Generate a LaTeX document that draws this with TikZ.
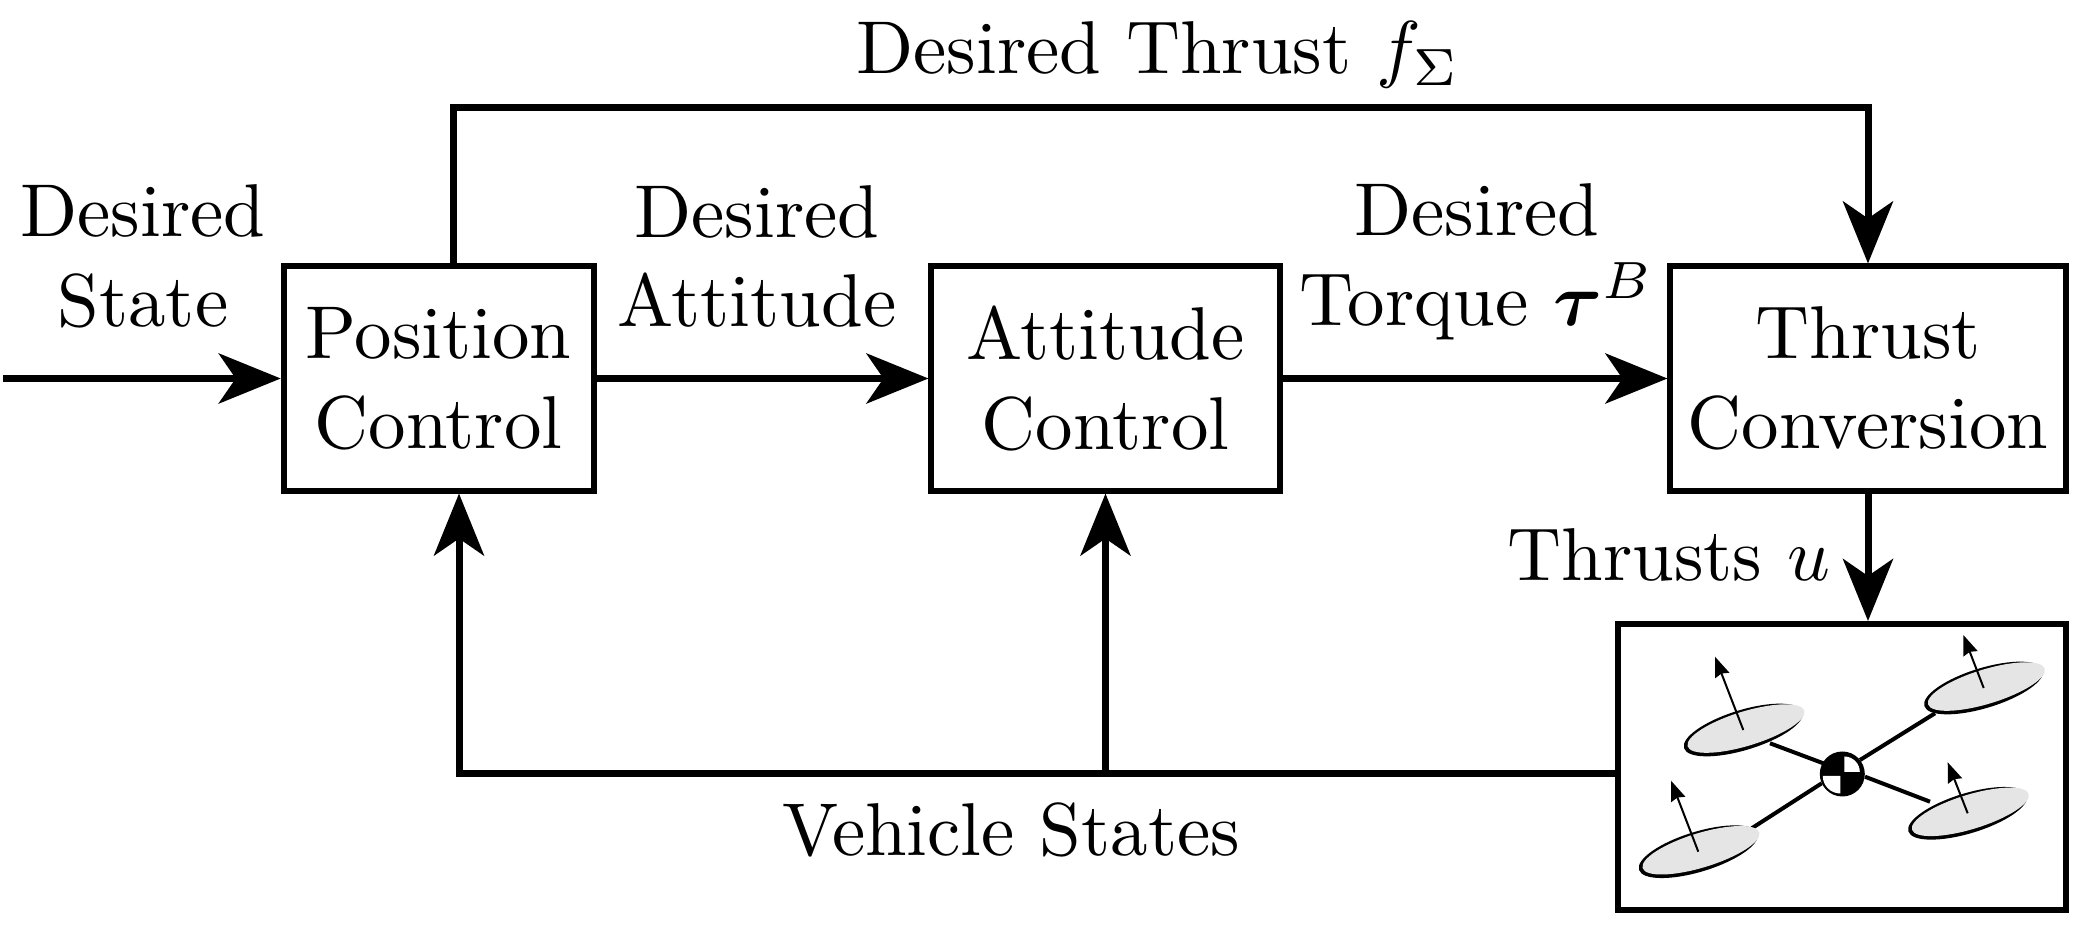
\documentclass[tikz,border=0pt]{standalone}
\usepackage{amsmath}
\usepackage{bm}
\usepackage{xcolor}
\usetikzlibrary{arrows.meta}
\definecolor{discgray}{HTML}{E5E5E5}
\tikzset{
	blockbox/.style={draw,line width=0.06cm,scale=2.13,align=center,outer sep=0.0141cm,inner sep=0pt,minimum height=1.052cm},
	sigtext/.style={scale=2.13,align=center,inner sep=0pt},
	sigline/.style={line width=0.07cm},
	sigarrow/.style={sigline,-{Stealth[length=0.62cm,width=0.5cm,inset=0.17cm]}},
	thrustarrow/.style={line width=0.02cm,-{Stealth[length=0.2cm,width=0.15cm,inset=0.02cm]}}
}
\begin{document}
\begin{tikzpicture}[transform shape,scale=1]
	\useasboundingbox (0,0) rectangle (20.83,9.29);
	\node[blockbox,minimum width=1.455cm] (pos) at (4.387,5.505) {Position\\Control};
	\node[blockbox,minimum width=1.634cm] (att) at (11.055,5.505) {Attitude\\Control};
	\node[blockbox,minimum width=1.855cm] (thr) at (18.68,5.505) {Thrust\\Conversion};
	\node[draw,line width=0.06cm,minimum width=4.48cm,minimum height=2.86cm] (veh) at (18.42,1.62) {};
	\coordinate (in) at (0.03,5.505);
	\coordinate (top) at (4.535,8.21);
	\coordinate (fb) at (4.59,1.55);
	\draw[sigarrow] (in) -- (pos.west);
	\draw[sigarrow] (pos.east) -- (att.west);
	\draw[sigarrow] (att.east) -- (thr.west);
	\draw[sigarrow] (top |- pos.north) -- (top) -| (thr.north);
	\draw[sigarrow] (thr.south) -- (thr.south |- veh.north);
	\draw[sigarrow] (veh.west |- fb) -- (fb) -- (fb |- pos.south);
	\draw[sigarrow] (att.south |- fb) -- (att.south);
	\node[sigtext] (dstate) at (1.43,6.725) {Desired\\State};
	\node[sigtext] (datt) at (7.57,6.725) {Desired\\Attitude};
	\node[sigtext] (dtorque) at (14.77,6.67) {Desired\\Torque $\bm{\tau}^B$};
	\node[sigtext,anchor=base] (dthrust) at (11.58,8.55) {Desired Thrust $f_\Sigma$};
	\node[sigtext,anchor=base] (thrusts) at (16.69,3.48) {Thrusts $u$};
	\node[sigtext,anchor=base] (vstates) at (10.11,0.73) {Vehicle States};
	\draw[line width=0.04cm] (17.70,1.857) -- (18.233,1.657);
	\draw[line width=0.04cm] (18.6,1.69) -- (19.35,2.157);
	\draw[line width=0.04cm] (18.65,1.523) -- (19.3,1.273);
	\draw[line width=0.04cm] (18.217,1.457) -- (17.517,1.007);
	\foreach \px/\py/\tx/\ty in {17.433/1.99/-0.283/0.733,19.837/2.41/-0.204/0.53,19.677/1.157/-0.2/0.51,16.983/0.773/-0.273/0.71}{
		\fill[black,rotate around={17:(\px,\py)}] (\px,\py) ellipse (0.62cm and 0.2cm);
		\fill[discgray,rotate around={17:(\px,\py)}] (\px+0.03,\py+0.006) ellipse (0.61cm and 0.172cm);
		\draw[thrustarrow] (\px,\py) -- ++(\tx,\ty);
	}
	\fill[black] (18.423,1.55) circle (0.225);
	\fill[white] (18.443,1.57) -- ++(0.155,0) arc (0:90:0.155) -- cycle;
	\fill[white] (18.403,1.53) -- ++(-0.175,0) arc (180:270:0.175) -- cycle;
\end{tikzpicture}
\end{document}
